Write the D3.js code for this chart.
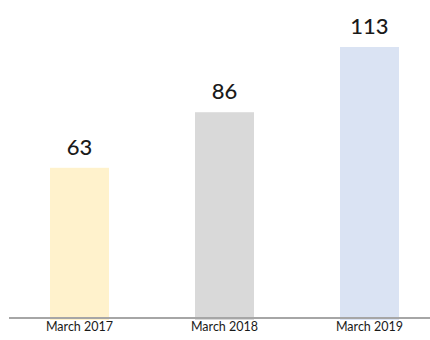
<!DOCTYPE html>
<html>
<head>
<meta charset="utf-8">
<script src="https://cdn.jsdelivr.net/npm/d3@7"></script>
<style>
  body { margin: 0; background: #fff; }
  svg { display: block; }
  .value { font-family: Lato, "Open Sans", sans-serif; font-size: 22px; font-weight: 500; fill: #1a1a1a; }
  .cat { font-family: Lato, "Open Sans", sans-serif; font-size: 12.5px; fill: #1a1a1a; }
</style>
</head>
<body>
<svg width="430" height="340"></svg>
<script>
const categories = ["March 2017", "March 2018", "March 2019"];
const values = [63, 86, 113];
const colors = ["#fff2cc", "#d9d9d9", "#dae3f3"];

const svg = d3.select("svg");

const x = d3.scaleBand()
  .domain(categories)
  .range([50, 399])
  .paddingInner(0.593)
  .paddingOuter(0);

const y = d3.scaleLinear()
  .domain([0, 113])
  .range([320, 47]);

// bars
svg.selectAll("rect.bar")
  .data(values)
  .join("rect")
  .attr("class", "bar")
  .attr("x", (d, i) => x(categories[i]))
  .attr("y", d => y(d))
  .attr("width", x.bandwidth())
  .attr("height", d => y(0) - y(d))
  .attr("fill", (d, i) => colors[i]);

// baseline
svg.append("line")
  .attr("x1", 9)
  .attr("x2", 430)
  .attr("y1", 318)
  .attr("y2", 318)
  .attr("stroke", "#a6a6a6")
  .attr("stroke-width", 2);

// value labels
svg.selectAll("text.value")
  .data(values)
  .join("text")
  .attr("class", "value")
  .attr("x", (d, i) => x(categories[i]) + x.bandwidth() / 2)
  .attr("y", d => y(d) - 13)
  .attr("text-anchor", "middle")
  .text(d => d);

// category labels
svg.selectAll("text.cat")
  .data(categories)
  .join("text")
  .attr("class", "cat")
  .attr("x", d => x(d) + x.bandwidth() / 2)
  .attr("y", 331)
  .attr("text-anchor", "middle")
  .text(d => d);
</script>
</body>
</html>
